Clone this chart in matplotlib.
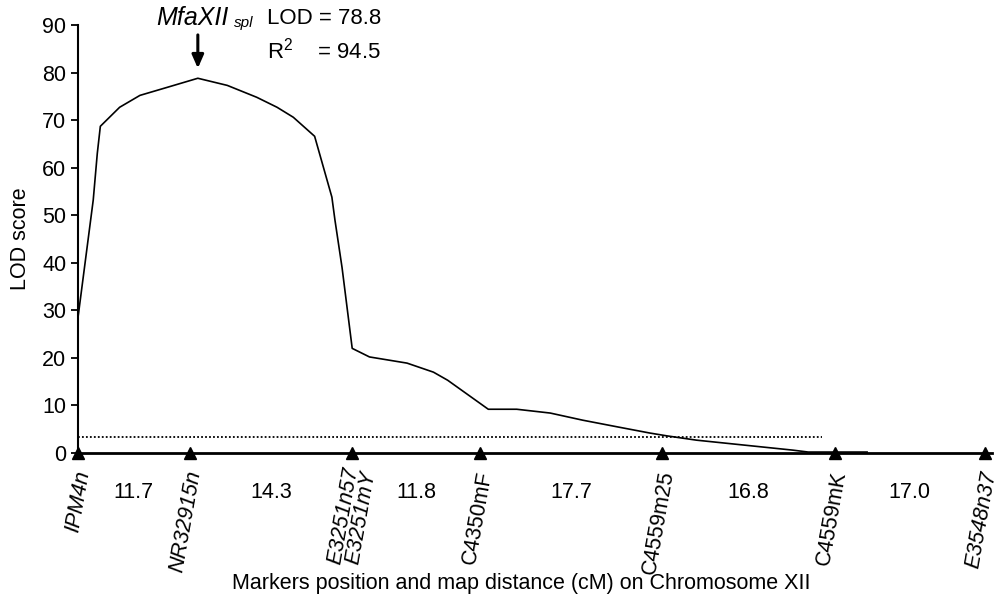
import matplotlib
matplotlib.use("Agg")
import matplotlib.pyplot as plt

plt.rcParams["font.family"] = ["Liberation Sans", "DejaVu Sans"]
plt.rcParams["mathtext.fontset"] = "custom"
plt.rcParams["mathtext.rm"] = "Liberation Sans"
plt.rcParams["mathtext.it"] = "Liberation Sans:italic"

# --- Data ---
# LOD profile (position in cM, LOD)
pos_cm = [0.0, 1.5, 1.9, 2.2, 4.1, 6.1, 8.8, 11.8, 14.7, 17.6, 19.6, 21.2,
          23.3, 25.0, 25.3, 26.0, 27.0, 28.7, 32.4, 35.0, 36.4, 40.4, 43.2,
          46.5, 49.7, 53.1, 56.3, 58.0, 60.9, 70.4, 71.9, 77.7]
lod = [28.5, 53.2, 63.0, 68.7, 72.7, 75.2, 76.9, 78.8, 77.3, 74.8, 72.7, 70.6,
       66.6, 53.8, 49.0, 39.0, 22.0, 20.2, 18.9, 17.0, 15.3, 9.2, 9.2,
       8.4, 6.9, 5.5, 4.2, 3.6, 2.7, 0.6, 0.2, 0.2]

markers = ["IPM4n", "NR32915n", "E3251n57\nE3251mY", "C4350mF",
           "C4559m25", "C4559mK", "E3548n37"]
marker_pos = [0.0, 11.0, 27.0, 39.6, 57.5, 74.5, 89.3]
marker_italic = [True, True, True, False, False, False, True]
distances = ["11.7", "14.3", "11.8", "17.7", "16.8", "17.0"]

threshold = 3.3
threshold_end = 73.3
peak_pos, peak_lod = 11.8, 78.8
r2 = 94.5

fig = plt.figure(figsize=(10.06, 6.02), dpi=100)
ax = fig.add_axes([78 / 1006, 1 - 453 / 602, 914 / 1006, 428 / 602])

ax.plot(pos_cm, lod, color="black", lw=1.2)
ax.plot([0, threshold_end], [threshold, threshold], color="black",
        lw=1.3, linestyle=(0, (1, 1.2)))
ax.plot(marker_pos, [0] * len(marker_pos), linestyle="none", marker="^",
        color="black", markersize=8, clip_on=False, zorder=5)

ax.set_xlim(0, 90.0)
ax.set_ylim(0, 90)
ax.set_yticks(range(0, 91, 10))
ax.set_xticks([])
ax.tick_params(axis="y", labelsize=15.5, length=5, width=1.3, direction="out")
for s in ["top", "right"]:
    ax.spines[s].set_visible(False)
ax.spines["left"].set_linewidth(1.5)
ax.spines["bottom"].set_linewidth(2)

ax.set_ylabel("LOD score", fontsize=15.5, labelpad=8)
fig.text(521 / 1006, 1 - 583 / 602,
         "Markers position and map distance (cM) on Chromosome XII",
         fontsize=15.5, ha="center", va="center")

# marker names under the axis
for name, x, it in zip(markers, marker_pos, marker_italic):
    two = "\n" in name
    ax.text(x + (0.8 if two else -0.5), -3.4, name, rotation=80,
            rotation_mode="anchor", ha="right",
            va="center" if two else "top",
            fontsize=15.5, style="italic" if it else "normal",
            linespacing=0.8)

# map distances between markers
for i, d in enumerate(distances):
    ax.text((marker_pos[i] + marker_pos[i + 1]) / 2, -8.4, d,
            ha="center", va="center", fontsize=15.5)

# QTL annotation
ax.text(7.7, 91.4, "MfaXII", style="italic", fontsize=18,
        ha="left", va="center", clip_on=False)
ax.text(15.4, 90.4, "spl", style="italic", fontsize=11,
        ha="left", va="center", clip_on=False)
ax.annotate("", xy=(peak_pos, peak_lod + 1.5), xytext=(peak_pos, 88.5),
            arrowprops=dict(arrowstyle="-|>,head_width=0.35,head_length=0.8",
                            color="black", lw=2.2), annotation_clip=False)
ax.text(18.6, 91.4, f"LOD = {peak_lod}", fontsize=16, ha="left",
        va="center", clip_on=False)
ax.text(18.6, 84.7, f"R$^2$    = {r2}", fontsize=16, ha="left",
        va="center", clip_on=False)

fig.savefig("out.png", dpi=100)
